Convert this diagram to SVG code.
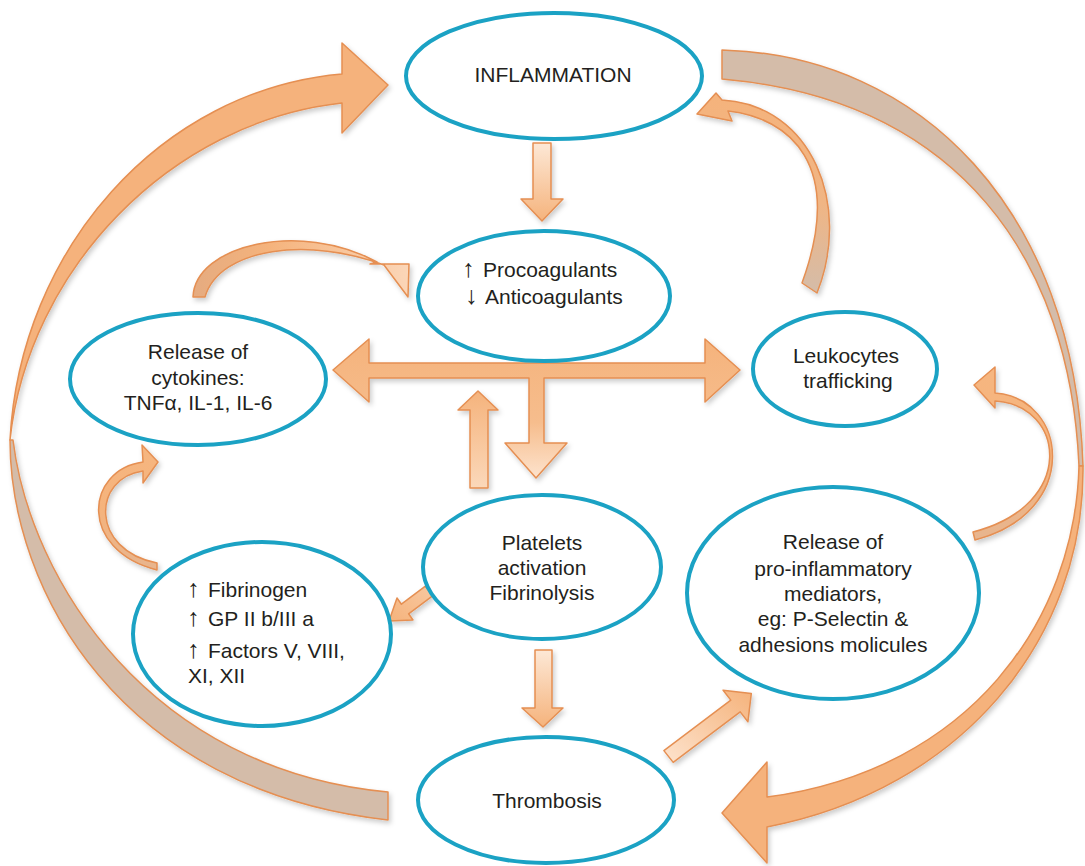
<svg xmlns="http://www.w3.org/2000/svg" width="1085" height="866" viewBox="0 0 1085 866">
<defs>
<style>
.node{fill:#fff;stroke:#1ba2c4;stroke-width:4}
.t{font-family:"Liberation Sans",Arial,Helvetica,sans-serif;font-size:21px;fill:#231f20}
.ar{font-family:"Liberation Sans",Arial,Helvetica,sans-serif;font-size:25px;fill:#231f20}
.c{text-anchor:middle}
.arr{stroke:#e58f52;stroke-width:1.5;stroke-linejoin:round}
.big{fill:#f5b27b}
.tan{fill:#d4bca9}
</style>
<filter id="sh" x="-20%" y="-20%" width="140%" height="140%">
<feDropShadow dx="2" dy="3" stdDeviation="2.5" flood-color="#000" flood-opacity="0.2"/>
</filter>
<linearGradient id="gDown" x1="0" y1="0" x2="0" y2="1">
<stop offset="0" stop-color="#fde8d6"/><stop offset="1" stop-color="#f5b37c"/>
</linearGradient>
<linearGradient id="gUp" x1="0" y1="1" x2="0" y2="0">
<stop offset="0" stop-color="#fbd8ba"/><stop offset="1" stop-color="#f5b37c"/>
</linearGradient>
<linearGradient id="gCross" x1="0" y1="0" x2="0" y2="1">
<stop offset="0" stop-color="#f5b37c"/><stop offset="0.6" stop-color="#f6bd8d"/><stop offset="1" stop-color="#fde3cd"/>
</linearGradient>
<linearGradient id="gDiagUp" x1="0" y1="1" x2="1" y2="0">
<stop offset="0" stop-color="#fde3cd"/><stop offset="1" stop-color="#f5b37c"/>
</linearGradient>
<linearGradient id="gDiagDn" x1="1" y1="0" x2="0" y2="1">
<stop offset="0" stop-color="#f8c8a0"/><stop offset="1" stop-color="#f5b37c"/>
</linearGradient>
<linearGradient id="gCurveA" x1="0" y1="0" x2="1" y2="0">
<stop offset="0" stop-color="#e5ab80"/><stop offset="0.35" stop-color="#f5b37c"/><stop offset="1" stop-color="#fbd6b8"/>
</linearGradient>
<linearGradient id="gCurveB" x1="0" y1="1" x2="0" y2="0">
<stop offset="0" stop-color="#d4bca9"/><stop offset="0.45" stop-color="#f0b584"/><stop offset="1" stop-color="#f5b37c"/>
</linearGradient>
<linearGradient id="gCurveC" x1="0" y1="1" x2="0" y2="0">
<stop offset="0" stop-color="#e7b58f"/><stop offset="0.5" stop-color="#f5b37c"/><stop offset="1" stop-color="#f6b680"/>
</linearGradient>
</defs>

<g id="connectors">
  <!-- big left arc: Thrombosis -> Inflammation -->
  <g filter="url(#sh)">
    <path class="arr tan" d="M10,440 C10,590 120,790 388,820 L388,792 C150,770 30,580 13,440 Z"/>
    <path class="arr big" d="M342,74 C160,90 20,250 10,440 C28,270 170,122 342,103 L342,133 L388,85 L342,43 Z"/>
  </g>
  <!-- big right arc: Inflammation -> Thrombosis -->
  <g filter="url(#sh)">
    <path class="arr tan" d="M722,50 C920,55 1075,210 1083,466 L1079,466 C1070,260 960,100 722,79 Z"/>
    <path class="arr big" d="M1083,466 C1085,640 960,790 767,827 L767,863 L722,813 L767,762 L767,797 C970,770 1075,620 1079,466 Z"/>
  </g>
  <!-- Cytokines -> Procoagulants -->
  <path class="arr" fill="url(#gCurveA)" filter="url(#sh)" d="M193,297 C195,245 300,220 377,262 L370,264 L409,264 L408,297 L384,265 C310,237 220,247 205,297 Z"/>
  <!-- Leukocytes -> Inflammation -->
  <path class="arr" fill="url(#gCurveB)" filter="url(#sh)" d="M722,100 L716,93 L697,114 L732,121 L728,111 C790,118 845,165 802,283 L817,293 C852,205 812,105 722,100 Z"/>
  <!-- Fibrinogen -> Cytokines -->
  <path class="arr" fill="url(#gCurveC)" filter="url(#sh)" d="M143,462 L142,445 L158,462 L143,483 L143,471 C92,478 90,550 157,563 L157,570 C78,550 85,470 143,462 Z"/>
  <!-- Pro-inflammatory -> Leukocytes -->
  <path class="arr" fill="url(#gCurveC)" filter="url(#sh)" d="M995,393 L995,367 L974,385 L995,408 L995,401 C1065,405 1078,505 973,532 L975,540 C1082,512 1068,398 995,393 Z"/>
  <!-- Inflammation -> Procoagulants -->
  <path class="arr" fill="url(#gDown)" filter="url(#sh)" d="M533,143 L551,143 L551,199 L563,199 L542,221 L521,199 L533,199 Z"/>
  <!-- cross arrow -->
  <path class="arr" fill="url(#gCross)" filter="url(#sh)" d="M333,370 L369,339 L369,363 L705,363 L705,339 L740,370 L705,402 L705,378 L544,378 L544,443 L567,443 L536,478 L505,443 L529,443 L529,378 L369,378 L369,402 Z"/>
  <!-- up arrow -->
  <path class="arr" fill="url(#gUp)" filter="url(#sh)" d="M470,488 L470,410 L458,410 L478,391 L498,410 L488,410 L488,488 Z"/>
  <!-- Platelets -> Fibrinogen -->
  <path class="arr" fill="url(#gDiagDn)" filter="url(#sh)" d="M432.6,595.8 L408.6,613.8 L413,620 L389,621 L397,598 L401.4,604.2 L425.4,586.2 Z"/>
  <!-- Platelets -> Thrombosis -->
  <path class="arr" fill="url(#gDown)" filter="url(#sh)" d="M535,650 L552,650 L552,708 L563,708 L543,727 L522,708 L535,708 Z"/>
  <!-- Thrombosis -> Pro-inflammatory -->
  <path class="arr" fill="url(#gDiagUp)" filter="url(#sh)" d="M663.9,750.6 L730.8,700.1 L723.1,690.2 L751.3,693.6 L747.9,721.8 L740.2,711.9 L673.2,762.4 Z"/>
</g>

<g id="inflammation">
  <ellipse class="node" cx="554" cy="76" rx="148" ry="63"/>
  <text class="t c" x="553" y="82">INFLAMMATION</text>
</g>
<g id="procoagulants">
  <ellipse class="node" cx="544" cy="296" rx="126" ry="65"/>
  <text class="ar" x="462" y="277">↑</text>
  <text class="t" x="483" y="277">Procoagulants</text>
  <text class="ar" x="465" y="304">↓</text>
  <text class="t" x="485" y="304">Anticoagulants</text>
</g>
<g id="cytokines">
  <ellipse class="node" cx="198" cy="379" rx="128" ry="66"/>
  <text class="t c" x="198" y="359">Release of</text>
  <text class="t c" x="198" y="385">cytokines:</text>
  <text class="t c" x="198" y="410">TNFα, IL-1, IL-6</text>
</g>
<g id="leukocytes">
  <ellipse class="node" cx="845" cy="369" rx="92" ry="57"/>
  <text class="t c" x="846" y="363">Leukocytes</text>
  <text class="t c" x="848" y="388">trafficking</text>
</g>
<g id="fibrinogen">
  <ellipse class="node" cx="262" cy="634" rx="129" ry="92"/>
  <text class="ar" x="187" y="597">↑</text>
  <text class="t" x="208" y="597">Fibrinogen</text>
  <text class="ar" x="187" y="626">↑</text>
  <text class="t" x="208" y="626">GP II b/III a</text>
  <text class="ar" x="187" y="658">↑</text>
  <text class="t" x="208" y="658">Factors V, VIII,</text>
  <text class="t" x="188" y="683">XI, XII</text>
</g>
<g id="platelets">
  <ellipse class="node" cx="542" cy="567" rx="119" ry="72"/>
  <text class="t c" x="542" y="550">Platelets</text>
  <text class="t c" x="542" y="575">activation</text>
  <text class="t c" x="542" y="600">Fibrinolysis</text>
</g>
<g id="proinflammatory">
  <ellipse class="node" cx="833" cy="593" rx="146" ry="106"/>
  <text class="t c" x="833" y="549">Release of</text>
  <text class="t c" x="833" y="576">pro-inflammatory</text>
  <text class="t c" x="833" y="601">mediators,</text>
  <text class="t c" x="833" y="626">eg: P-Selectin &amp;</text>
  <text class="t c" x="833" y="652">adhesions molicules</text>
</g>
<g id="thrombosis">
  <ellipse class="node" cx="546" cy="800" rx="128" ry="63"/>
  <text class="t c" x="547" y="808">Thrombosis</text>
</g>
</svg>
